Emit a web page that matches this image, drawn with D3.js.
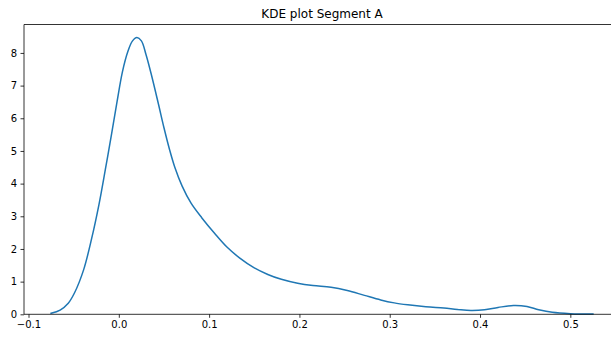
<!DOCTYPE html>
<html>
<head>
<meta charset="utf-8">
<script src="https://cdn.jsdelivr.net/npm/d3@7"></script>
<style>
  html, body { margin: 0; padding: 0; background: #fff; }
  svg { display: block; }
</style>
</head>
<body>
<svg id="chart" width="611" height="337"></svg>
<script>
// Kernel density estimate of Segment A (x = value, y = density)
const kdeX = [-0.075, -0.065, -0.056, -0.049, -0.039, -0.030, -0.022, -0.015, -0.008, -0.002,
  0.004, 0.010, 0.015, 0.020, 0.025, 0.030, 0.036, 0.044, 0.050, 0.056,
  0.062, 0.070, 0.080, 0.092, 0.106, 0.120, 0.134, 0.150, 0.165, 0.180,
  0.198, 0.215, 0.235, 0.253, 0.272, 0.290, 0.305, 0.320, 0.340, 0.360,
  0.375, 0.390, 0.405, 0.420, 0.437, 0.452, 0.465, 0.480, 0.500, 0.525];
const kdeY = [0.03, 0.13, 0.34, 0.66, 1.36, 2.33, 3.36, 4.42, 5.52, 6.50,
  7.42, 8.04, 8.36, 8.47, 8.37, 7.96, 7.34, 6.42, 5.71, 5.06,
  4.50, 3.93, 3.40, 2.95, 2.48, 2.05, 1.72, 1.42, 1.22, 1.07,
  0.95, 0.88, 0.83, 0.73, 0.58, 0.44, 0.35, 0.29, 0.23, 0.19,
  0.15, 0.12, 0.14, 0.21, 0.27, 0.24, 0.14, 0.06, 0.02, 0.01];
const xTicks = [-0.1, 0.0, 0.1, 0.2, 0.3, 0.4, 0.5];
const yTicks = [0, 1, 2, 3, 4, 5, 6, 7, 8];
const title = "KDE plot Segment A";

const svg = d3.select("#chart");
const m = { left: 24, top: 24.5, bottom: 314.3, right: 620 };

const xDomain = [-0.105, 0.555];
const yDomain = [0, 8.87];
const x = d3.scaleLinear().domain(xDomain).range([m.left, m.right]);
const y = d3.scaleLinear().domain(yDomain).range([m.bottom, m.top]);

const font = "'DejaVu Sans', sans-serif";
const fmtX = v => d3.format(".1f")(v).replace("-", "\u2212");

// density curve
const pts = kdeX.map((v, i) => [v, kdeY[i]]);
const line = d3.line().x(d => x(d[0])).y(d => y(d[1])).curve(d3.curveCatmullRom.alpha(0.5));
svg.append("path")
  .attr("d", line(pts))
  .attr("fill", "none")
  .attr("stroke", "#1f77b4")
  .attr("stroke-width", 1.5)
  .attr("stroke-linejoin", "round")
  .attr("stroke-linecap", "square");

// spines
const spine = svg.append("g").attr("stroke", "#000").attr("stroke-width", 0.8).attr("fill", "none");
spine.append("line").attr("x1", m.left).attr("x2", m.left).attr("y1", m.top).attr("y2", m.bottom);
spine.append("line").attr("x1", m.left).attr("x2", m.right).attr("y1", m.bottom).attr("y2", m.bottom);
spine.append("line").attr("x1", m.left).attr("x2", m.right).attr("y1", m.top).attr("y2", m.top);
spine.append("line").attr("x1", m.right).attr("x2", m.right).attr("y1", m.top).attr("y2", m.bottom);

// x axis
const xAxis = d3.axisBottom(x).tickValues(xTicks).tickSize(3.5).tickPadding(3.5).tickFormat(fmtX);
const gx = svg.append("g").attr("transform", `translate(0,${m.bottom})`).call(xAxis);
gx.select(".domain").remove();
gx.selectAll(".tick line").attr("stroke", "#000").attr("stroke-width", 0.8);
gx.selectAll(".tick text").attr("fill", "#000").style("font-family", font).style("font-size", "10px");

// y axis
const yAxis = d3.axisLeft(y).tickValues(yTicks).tickSize(3.5).tickPadding(3.5).tickFormat(d3.format("d"));
const gy = svg.append("g").attr("transform", `translate(${m.left},0)`).call(yAxis);
gy.select(".domain").remove();
gy.selectAll(".tick line").attr("stroke", "#000").attr("stroke-width", 0.8);
gy.selectAll(".tick text").attr("fill", "#000").style("font-family", font).style("font-size", "10px");

// title
svg.append("text")
  .attr("x", (m.left + m.right) / 2)
  .attr("y", m.top - 6.5)
  .attr("text-anchor", "middle")
  .style("font-family", font)
  .style("font-size", "12px")
  .attr("fill", "#000")
  .text(title);
</script>
</body>
</html>
